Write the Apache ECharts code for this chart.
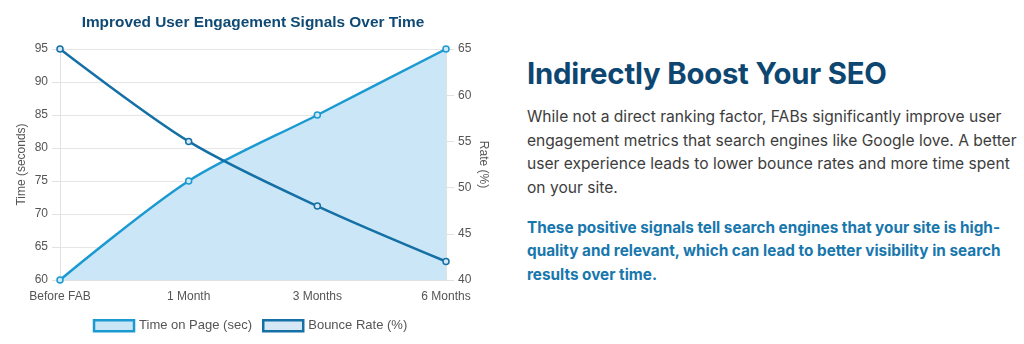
<!DOCTYPE html>
<html>
<head>
<meta charset="utf-8">
<script src="https://cdn.jsdelivr.net/npm/echarts@6/dist/echarts.min.js"></script>
<style>
  html, body { margin:0; padding:0; background:#fff; width:1024px; height:344px; overflow:hidden; }
  #chart { position:absolute; left:0; top:0; width:500px; height:344px; }
  #side { position:absolute; left:527px; top:0; width:497px; font-family: Inter, "Noto Sans", sans-serif; }
  #side h2 { position:absolute; top:56px; left:0; margin:0; font-size:29.3px; font-weight:700; color:#0d4670; white-space:nowrap; letter-spacing:-0.2px; }
  #side .p1 { position:absolute; top:105px; left:0; margin:0; font-size:15.6px; line-height:23.7px; color:#3d3d3d; white-space:nowrap; }
  #side .p2 { position:absolute; top:216px; left:0; margin:0; font-size:15.3px; line-height:23.3px; color:#1877ad; font-weight:700; white-space:nowrap; }
</style>
</head>
<body>
<div id="chart"></div>
<div id="side">
  <h2>Indirectly Boost Your SEO</h2>
  <p class="p1">While not a direct ranking factor, FABs significantly improve user<br>engagement metrics that search engines like Google love. A better<br>user experience leads to lower bounce rates and more time spent<br>on your site.</p>
  <p class="p2">These positive signals tell search engines that your site is high-<br>quality and relevant, which can lead to better visibility in search<br>results over time.</p>
</div>
<script>
const categories = ["Before FAB", "1 Month", "3 Months", "6 Months"];
const timeOnPage = [60, 75, 85, 95];
const bounceRate = [65, 55, 48, 42];
const seriesNames = ["Time on Page (sec)", "Bounce Rate (%)"];
const chartTitle = "Improved User Engagement Signals Over Time";
const leftAxisName = "Time (seconds)";
const rightAxisName = "Rate (%)";

const cTime = '#1b9ad2';
const cBounce = '#1570a6';
const font = '"Liberation Sans", Arial, Helvetica, sans-serif';

const chart = echarts.init(document.getElementById('chart'), null, {renderer:'canvas'});
chart.setOption({
  animation: false,
  textStyle: { fontFamily: font },
  title: {
    text: chartTitle, left: 248, top: 10, textAlign: 'center',
    textStyle: { fontSize: 15.4, fontWeight: 'bold', color: '#0f4a75', fontFamily: font }
  },
  legend: {
    left: 'center', top: 314, icon: 'rect', itemWidth: 40, itemHeight: 11, itemGap: 10,
    textStyle: { fontSize: 13, color: '#555', fontFamily: font },
    data: [
      { name: seriesNames[0], itemStyle: { color: '#c9e6f7', borderColor: cTime, borderWidth: 2.5 } },
      { name: seriesNames[1], itemStyle: { color: '#d6e8f5', borderColor: cBounce, borderWidth: 2.5 } }
    ]
  },
  grid: { left: 60, right: 54, top: 49, bottom: 64, containLabel: false },
  xAxis: {
    type: 'category', data: categories, boundaryGap: false,
    axisLine: { show: true, lineStyle: { color: '#e2e2e2' } },
    axisTick: { show: false },
    axisLabel: { color: '#555', fontSize: 12, margin: 11, fontFamily: font },
    splitLine: { show: false }
  },
  yAxis: [
    {
      type: 'value', min: 60, max: 95, interval: 5, position: 'left',
      name: leftAxisName, nameLocation: 'middle', nameGap: 32, nameRotate: 90, nameMoveOverlap: false,
      nameTextStyle: { color: '#555', fontSize: 12, fontFamily: font },
      axisLine: { show: true, lineStyle: { color: '#e2e2e2' } },
      axisTick: { show: true, length: 8, lineStyle: { color: '#e2e2e2' } },
      axisLabel: { color: '#555', fontSize: 12, margin: 12, fontFamily: font },
      splitLine: { show: true, lineStyle: { color: '#e6e6e6' } }
    },
    {
      type: 'value', min: 40, max: 65, interval: 5, position: 'right',
      name: rightAxisName, nameLocation: 'middle', nameGap: 31, nameRotate: -90, nameMoveOverlap: false,
      nameTextStyle: { color: '#555', fontSize: 12, fontFamily: font },
      axisLine: { show: true, lineStyle: { color: '#e2e2e2' } },
      axisTick: { show: true, length: 8, lineStyle: { color: '#e2e2e2' } },
      axisLabel: { color: '#555', fontSize: 12, margin: 12, fontFamily: font },
      splitLine: { show: false }
    }
  ],
  series: [
    {
      name: seriesNames[0], type: 'line', data: timeOnPage, yAxisIndex: 0,
      smooth: 0.3, symbol: 'circle', symbolSize: 6,
      lineStyle: { color: cTime, width: 2.5 },
      itemStyle: { color: '#cfe9f8', borderColor: cTime, borderWidth: 1.5 },
      areaStyle: { color: '#cbe7f7', opacity: 1 }
    },
    {
      name: seriesNames[1], type: 'line', data: bounceRate, yAxisIndex: 1,
      smooth: 0.3, symbol: 'circle', symbolSize: 6,
      lineStyle: { color: cBounce, width: 2.5 },
      itemStyle: { color: '#d6e8f5', borderColor: cBounce, borderWidth: 1.5 }
    }
  ]
});
</script>
</body>
</html>
